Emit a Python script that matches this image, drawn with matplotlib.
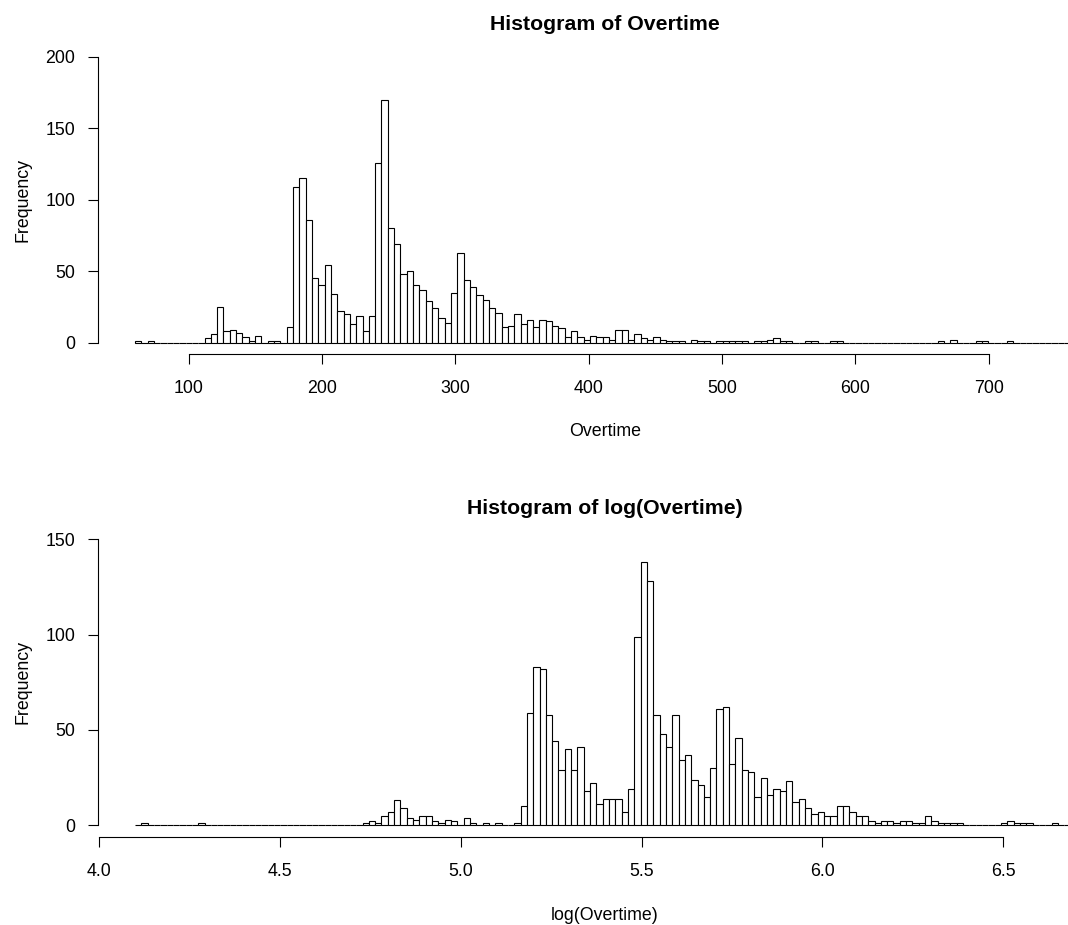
import numpy as np
import matplotlib.pyplot as plt

plt.rcParams['font.family'] = ['Liberation Sans', 'DejaVu Sans']

# Histogramme (R hist): compte par classe, classes de largeur égale
overtime_start = 59.73
overtime_width = 4.74
overtime_counts = [
    1, 0, 1, 0, 0, 0, 0, 0, 0, 0,
    0, 3, 6, 25, 8, 9, 7, 4, 1, 5,
    0, 1, 1, 0, 11, 109, 115, 86, 45, 40,
    54, 34, 22, 20, 13, 19, 8, 19, 126, 170,
    80, 69, 48, 50, 40, 37, 29, 24, 17, 14,
    35, 63, 44, 39, 33, 30, 24, 21, 11, 12,
    20, 13, 16, 11, 16, 15, 12, 10, 4, 8,
    4, 2, 5, 4, 4, 2, 9, 9, 2, 6,
    3, 2, 4, 2, 1, 1, 1, 0, 2, 1,
    1, 0, 1, 1, 1, 1, 1, 0, 1, 1,
    2, 3, 1, 1, 0, 0, 1, 1, 0, 0,
    1, 1, 0, 0, 0, 0, 0, 0, 0, 0,
    0, 0, 0, 0, 0, 0, 0, 1, 0, 2,
    0, 0, 0, 1, 1, 0, 0, 0, 1, 0,
    0, 0, 0, 0, 0, 0, 0, 0, 0,
]
overtime_xticks = [100, 200, 300, 400, 500, 600, 700]
overtime_yticks = [0, 50, 100, 150, 200]

log_start = 4.0987
log_width = 0.01748
log_counts = [
    0, 1, 0, 0, 0, 0, 0, 0, 0, 0,
    1, 0, 0, 0, 0, 0, 0, 0, 0, 0,
    0, 0, 0, 0, 0, 0, 0, 0, 0, 0,
    0, 0, 0, 0, 0, 0, 1, 2, 1, 5,
    7, 13, 9, 4, 3, 5, 5, 2, 1, 3,
    2, 0, 4, 1, 0, 1, 0, 1, 0, 0,
    1, 10, 59, 83, 82, 58, 44, 29, 40, 29,
    41, 18, 22, 11, 14, 14, 14, 7, 19, 99,
    138, 128, 58, 48, 41, 58, 34, 37, 24, 21,
    15, 30, 61, 62, 32, 46, 29, 28, 15, 25,
    16, 19, 18, 23, 12, 14, 9, 6, 7, 5,
    5, 10, 10, 7, 5, 5, 2, 1, 2, 2,
    1, 2, 2, 1, 1, 5, 2, 1, 1, 1,
    1, 0, 0, 0, 0, 0, 0, 1, 2, 1,
    1, 1, 0, 0, 0, 1, 0, 0, 0,
]
log_xticks = [4.0, 4.5, 5.0, 5.5, 6.0, 6.5]
log_yticks = [0, 50, 100, 150]

W, H = 1068, 925
fig = plt.figure(figsize=(W / 100, H / 100), dpi=100)


def px_axes(left, top, right, bottom):
    # position en pixels -> fraction de figure (la zone dépasse à droite, comme l'original rogné)
    return fig.add_axes([left / W, 1 - bottom / H, (right - left) / W, (bottom - top) / H])


def r_hist(ax, start, width, counts, xlim, ylim, xticks, yticks, xlabels):
    edges = start + width * np.arange(len(counts))
    ax.bar(edges, counts, width=width, align='edge', color='white',
           edgecolor='black', linewidth=0.8)
    ax.set_xlim(*xlim)
    ax.set_ylim(*ylim)
    for s in ['top', 'right']:
        ax.spines[s].set_visible(False)
    ax.spines['bottom'].set_bounds(xticks[0], xticks[-1])
    ax.spines['left'].set_bounds(yticks[0], yticks[-1])
    for s in ['bottom', 'left']:
        ax.spines[s].set_linewidth(0.8)
    ax.set_xticks(xticks)
    ax.set_xticklabels(xlabels)
    ax.set_yticks(yticks)
    ax.tick_params(axis='both', length=7.5, width=0.8, labelsize=12.8, color='black')
    ax.tick_params(axis='x', pad=11.5)
    ax.tick_params(axis='y', pad=8.5)


ax1 = px_axes(97.7, 45.3, 1112, 354.1)
r_hist(ax1, overtime_start, overtime_width, overtime_counts, (31.75, 792.5), (-8, 208),
       overtime_xticks, overtime_yticks, [str(v) for v in overtime_xticks])

ax2 = px_axes(97.7, 527.9, 1112, 836.7)
r_hist(ax2, log_start, log_width, log_counts, (3.9956, 6.8006), (-6, 156),
       log_xticks, log_yticks, ['%.1f' % v for v in log_xticks])

# titres et libellés
fig.text(605 / W, 1 - 24 / H, 'Histogram of Overtime', ha='center', va='center',
         fontsize=15.3, fontweight='bold')
fig.text(605 / W, 1 - 432 / H, 'Overtime', ha='center', va='center', fontsize=12.8)
fig.text(23 / W, 1 - 199.7 / H, 'Frequency', ha='center', va='center', fontsize=12.8, rotation=90)

fig.text(605 / W, 1 - 508 / H, 'Histogram of log(Overtime)', ha='center', va='center',
         fontsize=15.3, fontweight='bold')
fig.text(605 / W, 1 - 915 / H, 'log(Overtime)', ha='center', va='center', fontsize=12.8)
fig.text(23 / W, 1 - 682.3 / H, 'Frequency', ha='center', va='center', fontsize=12.8, rotation=90)

fig.savefig('out.png', dpi=100)
